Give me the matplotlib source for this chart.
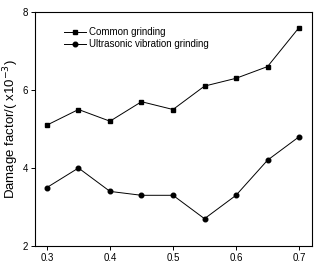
import matplotlib
matplotlib.use("Agg")
import matplotlib.pyplot as plt

x = [0.3, 0.35, 0.4, 0.45, 0.5, 0.55, 0.6, 0.65, 0.7]
common = [5.1, 5.5, 5.2, 5.7, 5.5, 6.1, 6.3, 6.6, 7.6]
ultrasonic = [3.5, 4.0, 3.4, 3.3, 3.3, 2.7, 3.3, 4.2, 4.8]

plt.rcParams["font.family"] = ["Liberation Sans", "DejaVu Sans"]

fig = plt.figure(figsize=(3.26, 2.64), dpi=100)
ax = fig.add_axes([35/326, 18/264, 277/326, 234/264])

ax.plot(x, common, "-", color="black", lw=0.7, marker="s", ms=3.0, label="Common grinding")
ax.plot(x, ultrasonic, "-", color="black", lw=0.7, marker="o", ms=3.3, label="Ultrasonic vibration grinding")

ax.set_xlim(0.281, 0.7206)
ax.set_ylim(2, 8)
ax.set_xticks([0.3, 0.4, 0.5, 0.6, 0.7])
ax.set_yticks([2, 4, 6, 8])
ax.tick_params(direction="out", length=3, width=0.7, labelsize=7, pad=2)
ax.set_ylabel("Damage factor/( x10$^{-3}$)", fontsize=9.5)
ax.yaxis.set_label_coords(-0.05, 0.5)
for s in ax.spines.values():
    s.set_linewidth(0.8)

ax.legend(loc="upper left", bbox_to_anchor=(0.085, 0.96), frameon=False, fontsize=7,
          handlelength=2.2, handletextpad=0.3, labelspacing=0.2, borderaxespad=0.2)

fig.savefig("out.png", dpi=100)
